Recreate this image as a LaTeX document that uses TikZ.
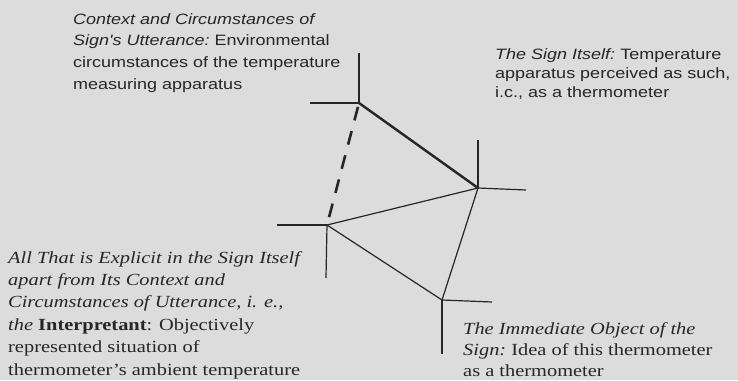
\documentclass[tikz,border=0pt]{standalone}
\usepackage{fontspec}
\setmainfont{Liberation Serif}[FakeStretch=1.2]
\newfontfamily\sansf{Liberation Sans}[FakeStretch=1.2]
\definecolor{bg}{RGB}{220,220,220}
\definecolor{ink}{RGB}{38,38,38}
\newcommand\txtblock[2]{\vtop{\baselineskip=#1\lineskiplimit=-100pt #2}}
\begin{document}
\begin{tikzpicture}[x=1pt,y=-1pt,
  thinedge/.style={draw=ink,line width=1.2pt},
  thickedge/.style={draw=ink,line width=2.4pt},
  dashedge/.style={draw=ink,line width=2.6pt,dash pattern=on 14pt off 11pt,dash phase=-4pt},
  tick/.style={draw=ink,line width=1.2pt},
  sanslbl/.style={anchor=base west,inner sep=0pt,text=ink,font=\sansf\fontsize{15pt}{19pt}\selectfont},
  seriflbl/.style={anchor=base west,inner sep=0pt,text=ink,font=\fontsize{17pt}{22pt}\selectfont}]
\fill[bg] (0,0) rectangle (738,380);
\useasboundingbox (0,0) rectangle (738,380);
% vertices
\coordinate (A) at (359,103);
\coordinate (B) at (478,188);
\coordinate (C) at (327,225);
\coordinate (D) at (442,300);
% tick ends
\coordinate (Au) at (359,53);
\coordinate (Al) at (310,103);
\coordinate (Bu) at (478,140);
\coordinate (Br) at (526,190);
\coordinate (Cl) at (277,225);
\coordinate (Cd) at (326,278);
\coordinate (Dr) at (492,302);
\coordinate (Dd) at (442,354);
% ticks
\draw[tick] (Au) -- (A);
\draw[tick] (Al) -- (A);
\draw[tick] (Bu) -- (B);
\draw[tick] (B) -- (Br);
\draw[tick] (Cl) -- (C);
\draw[tick] (C) -- (Cd);
\draw[tick] (D) -- (Dr);
\draw[tick] (D) -- (Dd);
% edges
\draw[thickedge] (A) -- (B);
\draw[dashedge] (A) -- (C);
\draw[thinedge] (C) -- (B);
\draw[thinedge] (C) -- (D);
\draw[thinedge] (B) -- (D);
% labels
\node[sanslbl] (ctx) at (73,24) {\txtblock{21.7pt}{%
  \hbox{\itshape Context and Circumstances of}
  \hbox{\itshape Sign's Utterance:\upshape\ Environmental}
  \hbox{circumstances of the temperature}
  \hbox{measuring apparatus}}};
\node[sanslbl] (sgn) at (495,59) {\txtblock{19pt}{%
  \hbox{\itshape The Sign Itself:\upshape\ Temperature}
  \hbox{apparatus perceived as such,}
  \hbox{i.c., as a thermometer}}};
\node[seriflbl] (interp) at (8,263) {\txtblock{22.4pt}{%
  \hbox{\itshape All That is Explicit in the Sign Itself}
  \hbox{\itshape apart from Its Context and}
  \hbox{\itshape Circumstances of Utterance, i. e.,}
  \hbox{\itshape the\upshape\ \textbf{Interpretant}: Objectively}
  \hbox{represented situation of}
  \hbox{thermometer's ambient temperature}}};
\node[seriflbl] (obj) at (463,334) {\txtblock{21pt}{%
  \hbox{\itshape The Immediate Object of the}
  \hbox{\itshape Sign:\upshape\ Idea of this thermometer}
  \hbox{as a thermometer}}};
\end{tikzpicture}
\end{document}
